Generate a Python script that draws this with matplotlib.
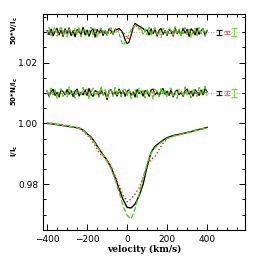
import matplotlib
matplotlib.use("Agg")
import matplotlib.pyplot as plt
from matplotlib.ticker import MultipleLocator
import numpy as np

# velocity grids (km/s)
vel_i = np.arange(-400, 401, 20)
vel_vn = np.arange(-400, 401, 10)

# Stokes I / Ic
i_black = [1.0000, 0.9999, 0.9997, 0.9995, 0.9993, 0.9991, 0.9989, 0.9987, 0.9985, 0.9978,
           0.9966, 0.9955, 0.9937, 0.9916, 0.9897, 0.9878, 0.9855, 0.9822, 0.9785, 0.9750,
           0.9724, 0.9722, 0.9735, 0.9762, 0.9800, 0.9858, 0.9905, 0.9925, 0.9935, 0.9945,
           0.9953, 0.9958, 0.9962, 0.9964, 0.9967, 0.9970, 0.9973, 0.9977, 0.9980, 0.9983,
           0.9987]
i_red = [1.0003, 1.0001, 0.9998, 0.9997, 0.9995, 0.9993, 0.9990, 0.9988, 0.9984, 0.9975,
         0.9962, 0.9948, 0.9928, 0.9902, 0.9893, 0.9880, 0.9860, 0.9828, 0.9795, 0.9765,
         0.9742, 0.9752, 0.9768, 0.9788, 0.9822, 0.9860, 0.9882, 0.9892, 0.9915, 0.9935,
         0.9948, 0.9955, 0.9960, 0.9963, 0.9966, 0.9970, 0.9972, 0.9976, 0.9980, 0.9983,
         0.9986]
i_green = [1.0002, 1.0000, 0.9998, 0.9996, 0.9993, 0.9991, 0.9989, 0.9987, 0.9984, 0.9977,
           0.9964, 0.9952, 0.9934, 0.9914, 0.9895, 0.9875, 0.9850, 0.9815, 0.9775, 0.9728,
           0.9698, 0.9686, 0.9720, 0.9768, 0.9820, 0.9868, 0.9903, 0.9920, 0.9932, 0.9942,
           0.9950, 0.9956, 0.9960, 0.9963, 0.9966, 0.9969, 0.9972, 0.9976, 0.9979, 0.9983,
           0.9986]

# 50*V/Ic, units of 1e-3
v_black = [0.5, -0.8, 1.0, -1.2, 0.3, 1.3, -0.9, 0.7, -1.4, 1.1,
           -0.5, 1.4, -1.1, 0.4, -1.5, 0.9, 0.2, -0.8, 1.6, -0.9,
           0.7, -1.3, 0.5, 1.1, -1.6, 0.9, -0.3, 1.2, -1.1, 0.6,
           -0.9, 1.1, 0.4, -0.7, 1.0, 0.9, 1.2, 0.6, -0.5, -2.5,
           -3.8, -3.2, -1.0, 1.5, 2.9, 2.4, 2.0, 1.6, 1.2, 0.5,
           0.7, -0.9, 1.1, -0.5, 0.9, -1.3, 0.7, 1.2, -0.7, 0.5,
           -1.1, 0.9, 0.3, -1.3, 1.4, -0.5, 0.7, -1.1, 1.3, -0.3,
           0.9, -1.4, 1.1, 0.4, -0.9, 1.3, -0.7, 0.5, 1.1, -1.2,
           0.6]
v_red = [0.3, -0.5, 0.4, -0.3, 0.6, -0.4, 0.2, -0.6, 0.5, 0.0,
         0.4, -0.3, -0.6, 0.5, 0.2, -0.5, 0.6, -0.2, 0.1, 0.4,
         -0.5, 0.3, 0.6, -0.4, -0.2, 0.5, -0.6, 0.2, 0.4, -0.3,
         0.1, 0.4, -0.5, 0.3, 0.6, 0.3, 0.5, 0.2, 0.0, -0.8,
         -1.8, -2.1, -1.0, 1.0, 2.2, 1.8, 1.2, 0.8, 0.5, 0.3,
         -0.3, 0.5, -0.4, 0.2, 0.6, -0.5, 0.1, 0.4, -0.6, 0.3,
         0.5, -0.3, -0.5, 0.6, 0.0, -0.4, 0.5, 0.2, -0.6, 0.4,
         -0.3, 0.5, 0.1, -0.5, 0.6, -0.2, 0.3, -0.5, 0.4, 0.0,
         0.2]
v_green = [-0.8, 1.5, -1.1, 0.6, 1.7, -1.3, 0.4, 2.0, -0.9, 0.8,
           -1.6, 1.1, 0.2, -1.0, 1.4, -0.6, 1.8, -1.5, 0.6, 1.0,
           -1.2, 0.4, 1.7, -0.8, 1.1, -1.8, 0.6, 1.3, -0.4, 1.0,
           -1.3, 0.8, 1.5, -0.6, 0.9, 0.3, -0.5, -2.5, -4.3, -3.5,
           -2.0, -0.5, 0.8, 1.5, 2.3, 2.0, 1.0, 1.2, -0.6, 1.1,
           -0.9, 1.6, -1.3, 0.8, 1.5, -0.8, 0.4, -1.7, 1.3, 0.6,
           -1.1, 1.5, 0.4, -1.0, 1.8, -0.6, 1.1, -1.5, 0.8, 1.6,
           -0.8, 1.0, -1.7, 0.6, 1.3, -1.1, 1.5, -0.4, 0.9, -1.3,
           0.7]

# 50*N/Ic, units of 1e-3
n_black = [0.6, -1.0, 0.4, 1.2, -0.8, 0.2, -1.3, 1.0, 0.4, -0.6,
           1.1, -0.4, 0.8, -1.2, 0.6, 1.3, -1.0, 0.2, -0.6, 1.0,
           -0.8, 1.5, -0.4, -1.1, 0.8, 0.4, -1.0, 1.1, -0.6, 0.2,
           -2.2, 0.8, 1.1, -0.6, 0.4, -1.0, 1.3, -0.4, 0.8, -1.1,
           0.6, 1.0, -0.8, 0.4, -1.3, 1.1, -0.2, 0.6, -1.0, 0.8,
           0.4, -1.1, 1.0, 1.3, -0.6, 0.2, -1.0, 0.8, 1.5, -0.4,
           0.6, -0.8, 1.1, -1.3, 0.4, 1.0, -0.6, 0.2, -1.1, 0.8,
           1.3, -0.4, 0.6, -1.0, 1.1, 0.2, -0.8, 1.0, -0.6, 1.5,
           0.4]
n_red = [-0.2, 0.4, 0.0, -0.4, 0.2, 0.6, -0.2, 0.0, 0.4, -0.4,
         0.2, -0.2, 0.4, 0.0, -0.6, 0.2, 0.4, -0.2, 0.0, 0.4,
         -0.4, 0.2, 0.6, -0.2, 0.0, -0.4, 0.4, 0.2, -0.6, 0.0,
         0.4, -0.2, 0.2, 0.6, -0.4, 0.0, 0.2, -0.4, 0.4, 0.0,
         -0.2, 0.4, 0.0, -0.6, 0.2, 0.4, -0.2, 0.0, 0.6, -0.4,
         0.2, -0.4, 0.0, 0.4, -0.2, 0.6, 0.0, -0.4, 0.2, 0.4,
         -0.2, 0.0, 0.4, -0.4, 0.2, 0.0, 0.6, -0.2, -0.4, 0.2,
         0.4, 0.0, -0.2, 0.2, -0.6, 0.4, 0.0, 0.2, -0.4, 0.4,
         0.0]
n_green = [0.9, -1.4, 1.6, -0.5, 1.1, -1.8, 0.7, 1.4, -1.1, 0.4,
           -1.3, 2.0, -0.7, 0.5, -1.6, 1.1, 0.4, -0.9, 1.8, -0.5,
           1.3, -2.0, 0.7, 1.6, -0.9, 0.4, -1.4, 2.2, -0.7, 1.1,
           -1.6, 0.5, 1.4, -1.1, 1.8, -0.5, 0.9, -1.3, 0.7, 1.6,
           -0.9, 1.3, -1.8, 0.5, 1.1, -1.4, 1.6, -0.4, 0.9, -1.6,
           1.4, -0.7, 0.4, -2.0, 1.3, 0.5, -1.1, 1.8, -0.5, 0.9,
           -1.4, 1.1, 1.6, -0.9, 0.4, -1.8, 1.3, 0.7, -1.1, 2.0,
           -0.5, 0.9, -1.6, 1.4, 0.4, -1.1, 1.8, -0.7, 1.1, 2.2,
           -0.9]

V_OFFSET = 1.03
N_OFFSET = 1.01

# error bars (position, half-size in 1e-3)
err_x = [460, 500, 535]
err_size = [0.8, 0.5, 1.3]
err_colors = ["#222222", "#ff6666", "#77dd44"]

BLACK = "black"
RED = "#ff1a1a"
GREEN = "#55cc22"

fig = plt.figure(figsize=(2.58, 2.58), dpi=100)
ax = fig.add_axes([0.167, 0.109, 0.783, 0.837])

ax.axhline(V_OFFSET, color="#aaaaaa", lw=0.7, ls=":", zorder=0)
ax.axhline(N_OFFSET, color="#aaaaaa", lw=0.7, ls=":", zorder=0)

styles = [(BLACK, "-"), (RED, ":"), (GREEN, "--")]
for (col, ls), yi, yv, yn in zip(styles, [i_black, i_red, i_green],
                                 [v_black, v_red, v_green], [n_black, n_red, n_green]):
	ax.plot(vel_i, yi, color=col, ls=ls, lw=1.0)
	ax.plot(vel_vn, V_OFFSET + np.array(yv) * 1e-3, color=col, ls=ls, lw=0.9)
	ax.plot(vel_vn, N_OFFSET + np.array(yn) * 1e-3, color=col, ls=ls, lw=0.9)

for off in [V_OFFSET, N_OFFSET]:
	for x, e, c in zip(err_x, err_size, err_colors):
		ax.errorbar(x, off, yerr=e * 1e-3, color=c, capsize=2, lw=0.9, capthick=0.9)

ax.set_xlim(-420, 590)
ax.set_ylim(0.965, 1.036)
ax.xaxis.set_minor_locator(MultipleLocator(50))
ax.yaxis.set_minor_locator(MultipleLocator(0.005))
ax.set_xticks([-400, -200, 0, 200, 400])
ax.set_yticks([0.98, 1.00, 1.02])
ax.set_yticklabels(["0.98", "1.00", "1.02"])
ax.tick_params(which="both", direction="in", top=True, right=True, labelsize=6.5, width=0.7)
ax.tick_params(which="major", length=4)
ax.tick_params(which="minor", length=2)
for sp in ax.spines.values():
	sp.set_linewidth(0.8)

ax.set_xlabel("velocity (km/s)", family="DejaVu Serif", fontweight="bold", fontsize=6.5, labelpad=1)

lab_kw = dict(transform=ax.get_yaxis_transform(), rotation=90, ha="center", va="center",
              fontsize=5, fontweight="bold")
ax.text(-0.14, 1.0305, r"50*V/I$_{\mathbf{c}}$", **lab_kw)
ax.text(-0.14, 1.0105, r"50*N/I$_{\mathbf{c}}$", **lab_kw)
ax.text(-0.14, 0.9910, r"I/I$_{\mathbf{c}}$", **lab_kw)

fig.savefig("out.png", dpi=100)
